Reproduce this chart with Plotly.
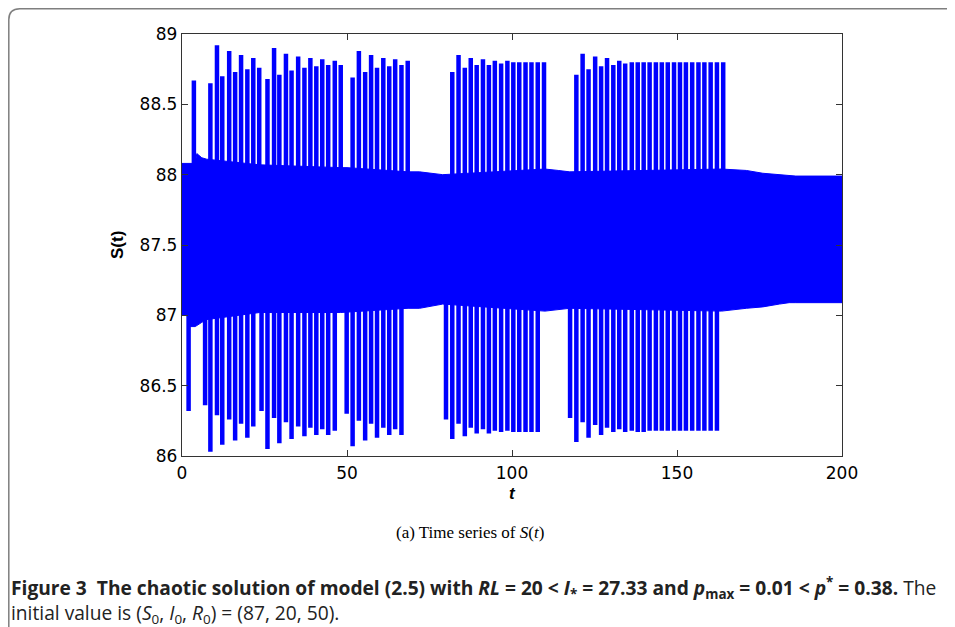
import numpy as np
import plotly.graph_objects as go

# ---------------- data ----------------
# fast-oscillation band (envelope of the dense oscillation)
band_t = [0, 1.5, 2.5, 4, 4.5, 6, 7.5, 23.5, 48, 50, 68.5, 72, 79,
          110, 114, 117.5, 163.5, 171, 176, 181, 184, 186, 200]
band_upper = [88.08, 88.08, 88.08, 88.08, 88.15, 88.12, 88.11, 88.07, 88.05, 88.05,
              88.02, 88.02, 88.00, 88.04, 88.03, 88.02, 88.04, 88.03, 88.01, 88.00,
              87.99, 87.99, 87.99]
band_lower = [87.00, 87.00, 86.92, 86.92, 86.93, 86.95, 86.97, 87.02, 87.02, 87.02,
              87.05, 87.05, 87.08, 87.03, 87.04, 87.05, 87.03, 87.05, 87.06, 87.08,
              87.09, 87.09, 87.09]

# large excursions: time, maximum, minimum (None = no excursion on that side)
spike_t = [2.0, 3.6,
           7.0, 8.6, 10.6, 12.2, 14.3, 16.1, 17.9, 19.8, 21.6, 23.4,
           24.1, 25.9, 27.9, 29.5, 31.5, 33.2, 35.2, 37.1, 38.9, 40.7, 42.5, 44.3, 46.3, 48.1,
           49.9, 51.7, 53.6, 55.5, 57.3, 59.1, 61.0, 62.8, 64.6, 66.5, 68.4,
           80.0, 81.9, 83.8, 85.7, 87.5, 89.3, 91.2, 93.0, 94.8, 96.7, 98.6, 100.4, 102.2,
           104.1, 105.9, 107.8, 109.7,
           117.6, 119.5, 121.4, 123.2, 125.2, 127.0, 128.8, 130.7, 132.5, 134.3, 136.3,
           138.1, 139.9, 141.7, 143.6, 145.4, 147.2, 149.1, 150.9, 152.7, 154.6, 156.5,
           158.3, 160.2, 162.1, 164.0]
spike_max = [None, 88.67,
             None, 88.65, 88.92, 88.70, 88.88, 88.73, 88.85, 88.75, 88.83, 88.76,
             None, 88.68, 88.90, 88.71, 88.86, 88.74, 88.84, 88.76, 88.83, 88.77, 88.82, 88.78, 88.81, 88.78,
             None, 88.69, 88.88, 88.73, 88.85, 88.76, 88.83, 88.77, 88.82, 88.78, 88.81,
             None, 88.73, 88.85, 88.76, 88.83, 88.78, 88.82, 88.78, 88.81, 88.79, 88.81, 88.80, 88.80,
             88.80, 88.80, 88.80, 88.80,
             None, 88.71, 88.86, 88.75, 88.84, 88.77, 88.83, 88.78, 88.81, 88.79, 88.80,
             88.80, 88.80, 88.80, 88.80, 88.80, 88.80, 88.80, 88.80, 88.80, 88.80, 88.80,
             88.80, 88.80, 88.80, 88.80]
spike_min = [86.32, None,
             86.36, 86.03, 86.29, 86.08, 86.26, 86.11, 86.23, 86.13, 86.21, None,
             86.32, 86.05, 86.27, 86.09, 86.24, 86.12, 86.21, 86.14, 86.20, 86.15, 86.19, 86.15, 86.18, None,
             86.30, 86.07, 86.25, 86.11, 86.23, 86.13, 86.20, 86.15, 86.19, 86.15, None,
             86.26, 86.12, 86.23, 86.14, 86.20, 86.16, 86.19, 86.16, 86.18, 86.17, 86.18, 86.17, 86.17,
             86.17, 86.17, 86.17, None,
             86.27, 86.10, 86.24, 86.13, 86.22, 86.15, 86.20, 86.17, 86.19, 86.17, 86.18,
             86.17, 86.17, 86.18, 86.18, 86.18, 86.18, 86.18, 86.18, 86.18, 86.18, 86.18,
             86.18, 86.18, 86.18, None]

x_ticks = [0, 50, 100, 150, 200]
y_ticks = [86, 86.5, 87, 87.5, 88, 88.5, 89]
y_ticktext = ["86", "86.5", "87", "87.5", "88", "88.5", "89"]

# ---------------- build traces ----------------
BLUE = "#0000FF"
fig = go.Figure()

fig.add_trace(go.Scatter(
    x=band_t + band_t[::-1],
    y=band_upper + band_lower[::-1],
    fill="toself", fillcolor=BLUE, mode="lines",
    line=dict(color=BLUE, width=1), hoverinfo="skip", showlegend=False))

xs, ys = [], []
for t, hi, lo in zip(spike_t, spike_max, spike_min):
    mid = 0.5 * (np.interp(t, band_t, band_upper) + np.interp(t, band_t, band_lower))
    xs += [t, t, None]
    ys += [lo if lo is not None else mid, hi if hi is not None else mid, None]

fig.add_trace(go.Scatter(x=xs, y=ys, mode="lines",
                         line=dict(color=BLUE, width=4.5), showlegend=False))

# ---------------- layout (page has an 8px body margin) ----------------
W, H = 947, 619
L, R, T, B = 174, 834, 26, 448
def px(X):
    return (X - L) / (R - L)
def py(Y):
    return (B - Y) / (B - T)

tickfont = dict(family="DejaVu Sans", size=17, color="black")
axis_common = dict(showline=True, linecolor="#333333", linewidth=1.3, mirror="ticks",
                   ticks="inside", ticklen=6, tickcolor="#333333", tickwidth=1,
                   showgrid=False, zeroline=False, tickfont=tickfont)

fig.update_layout(
    width=W, height=H,
    margin=dict(l=L, r=W - R, t=T, b=H - B),
    paper_bgcolor="white", plot_bgcolor="white",
    xaxis=dict(range=[0, 200], tickvals=x_ticks, ticklabelstandoff=1, **axis_common),
    yaxis=dict(range=[86, 89], tickvals=y_ticks, ticktext=y_ticktext, **axis_common),
    showlegend=False,
)

ann = []
ann.append(dict(text="<b><i>t</i></b>", x=0.5, y=py(485), xref="paper", yref="paper",
                showarrow=False, xanchor="center", yanchor="middle",
                font=dict(family="Liberation Sans", size=17, color="black")))
ann.append(dict(text="<b>S(t)</b>", x=px(109), y=0.5, xref="paper", yref="paper",
                showarrow=False, textangle=-90, xanchor="center", yanchor="middle",
                font=dict(family="Liberation Sans", size=17, color="black")))
ann.append(dict(text="(a) Time series of <i>S</i>(<i>t</i>)", x=px(462), y=py(524),
                xref="paper", yref="paper", showarrow=False, xanchor="center", yanchor="middle",
                font=dict(family="Liberation Serif", size=17, color="black")))
caption = ("<b>Figure 3  The chaotic solution of model (2.5) with <i>RL</i> = 20 &lt; "
           "<i>I</i><sub>*</sub> = 27.33 and <i>p</i><sub>max</sub> = 0.01 &lt; "
           "<i>p</i><sup>*</sup> = 0.38.</b> The<br>"
           "initial value is (<i>S</i><sub>0</sub>, <i>I</i><sub>0</sub>, "
           "<i>R</i><sub>0</sub>) = (87, 20, 50).")
ann.append(dict(text=caption, x=px(1), y=py(592), xref="paper", yref="paper",
                showarrow=False, xanchor="left", yanchor="middle", align="left",
                font=dict(family="Open Sans", size=19.2, color="#222222")))
fig.update_layout(annotations=ann)

# rounded frame around the figure panel
x0, y0, rad = 0.8, 0.8, 11
path = (f"M {px(x0)},{py(H + 2)} L {px(x0)},{py(y0 + rad)} "
        f"Q {px(x0)},{py(y0)} {px(x0 + rad)},{py(y0)} L {px(W + 2)},{py(y0)}")
fig.add_shape(type="path", path=path, xref="paper", yref="paper",
              line=dict(color="#7f7f7f", width=1.5))

fig.write_html("out.html")
